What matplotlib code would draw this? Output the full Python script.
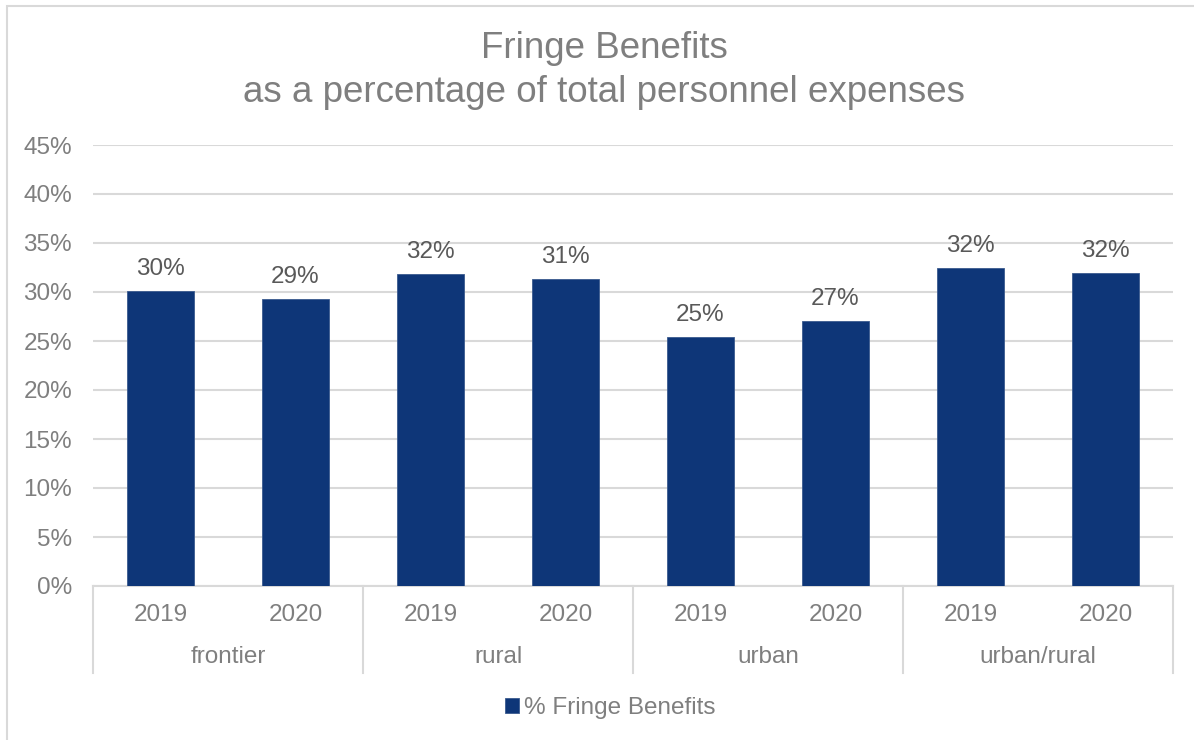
import matplotlib
matplotlib.use('Agg')
import matplotlib.pyplot as plt
import matplotlib.transforms as mtransforms
from matplotlib.patches import Rectangle

plt.rcParams['font.family'] = ['Liberation Sans', 'DejaVu Sans']

groups = ['frontier', 'rural', 'urban', 'urban/rural']
years = ['2019', '2020']
fringe_pct = [30.1, 29.3, 31.8, 31.3, 25.4, 27.0, 32.4, 31.9]
series_name = '% Fringe Benefits'
title_lines = ['Fringe Benefits', 'as a percentage of total personnel expenses']

W, H = 1194, 740
bar_color = '#0E3678'
grid_color = '#D9D9D9'
text_color = '#7F7F7F'
label_color = '#595959'
fs = 17.5

fig = plt.figure(figsize=(W / 100, H / 100), dpi=100)
ax = fig.add_axes([93 / W, 1 - 586 / H, (1173 - 93) / W, (586 - 145) / H])

xs = list(range(len(fringe_pct)))
vals = [v / 100 for v in fringe_pct]
bars = ax.bar(xs, vals, width=0.5, color=bar_color, edgecolor='#3A5A8E',
              linewidth=0.6, label=series_name, zorder=3)
for b, v in zip(bars, fringe_pct):
    ax.annotate(f'{round(v):.0f}%', (b.get_x() + b.get_width() / 2, b.get_height()),
                xytext=(0, 8), textcoords='offset points', ha='center', va='bottom',
                fontsize=fs, color=label_color)

ax.set_xlim(-0.5, len(xs) - 0.5)
ax.set_ylim(0, 0.45)
ax.set_yticks([i * 0.05 for i in range(10)])
ax.set_yticklabels([f'{i * 5}%' for i in range(10)])
ax.tick_params(axis='y', length=0, labelsize=fs, labelcolor=text_color, pad=15)
ax.set_xticks([])
ax.grid(axis='y', color=grid_color, lw=1.5, zorder=0)
for s in ['top', 'right', 'left']:
    ax.spines[s].set_visible(False)
ax.spines['bottom'].set_color(grid_color)
ax.spines['bottom'].set_linewidth(1.5)

# two-level category axis: years, then groups, with separators
tr = mtransforms.blended_transform_factory(ax.transData, ax.transAxes)
axh = 586 - 145
for i, x in enumerate(xs):
    ax.text(x, -29 / axh, years[i % len(years)], transform=tr, ha='center', va='center',
            fontsize=fs, color=text_color)
for g, name in enumerate(groups):
    mid = g * len(years) + (len(years) - 1) / 2
    ax.text(mid, -71 / axh, name, transform=tr, ha='center', va='center',
            fontsize=fs, color=text_color)
for g in range(len(groups) + 1):
    xsep = g * len(years) - 0.5
    ax.plot([xsep, xsep], [0, -87 / axh], transform=tr, color=grid_color, lw=1.5,
            clip_on=False)

fig.text(604 / W, 1 - 48 / H, title_lines[0], ha='center', va='center', fontsize=26.5,
         color=text_color)
fig.text(604 / W, 1 - 93 / H, title_lines[1], ha='center', va='center', fontsize=26.5,
         color=text_color)

ax.legend(loc='center', bbox_to_anchor=(610 / W, 1 - 708 / H), bbox_transform=fig.transFigure,
          frameon=False, fontsize=fs, labelcolor=text_color, handlelength=0.6,
          handleheight=0.6, handletextpad=0.2)

fig.add_artist(Rectangle((7 / W, -0.1), 1.2, 1.1 - 6 / H, transform=fig.transFigure,
                         fill=False, ec=grid_color, lw=1.5))

fig.savefig('out.png', dpi=100, facecolor='white')
